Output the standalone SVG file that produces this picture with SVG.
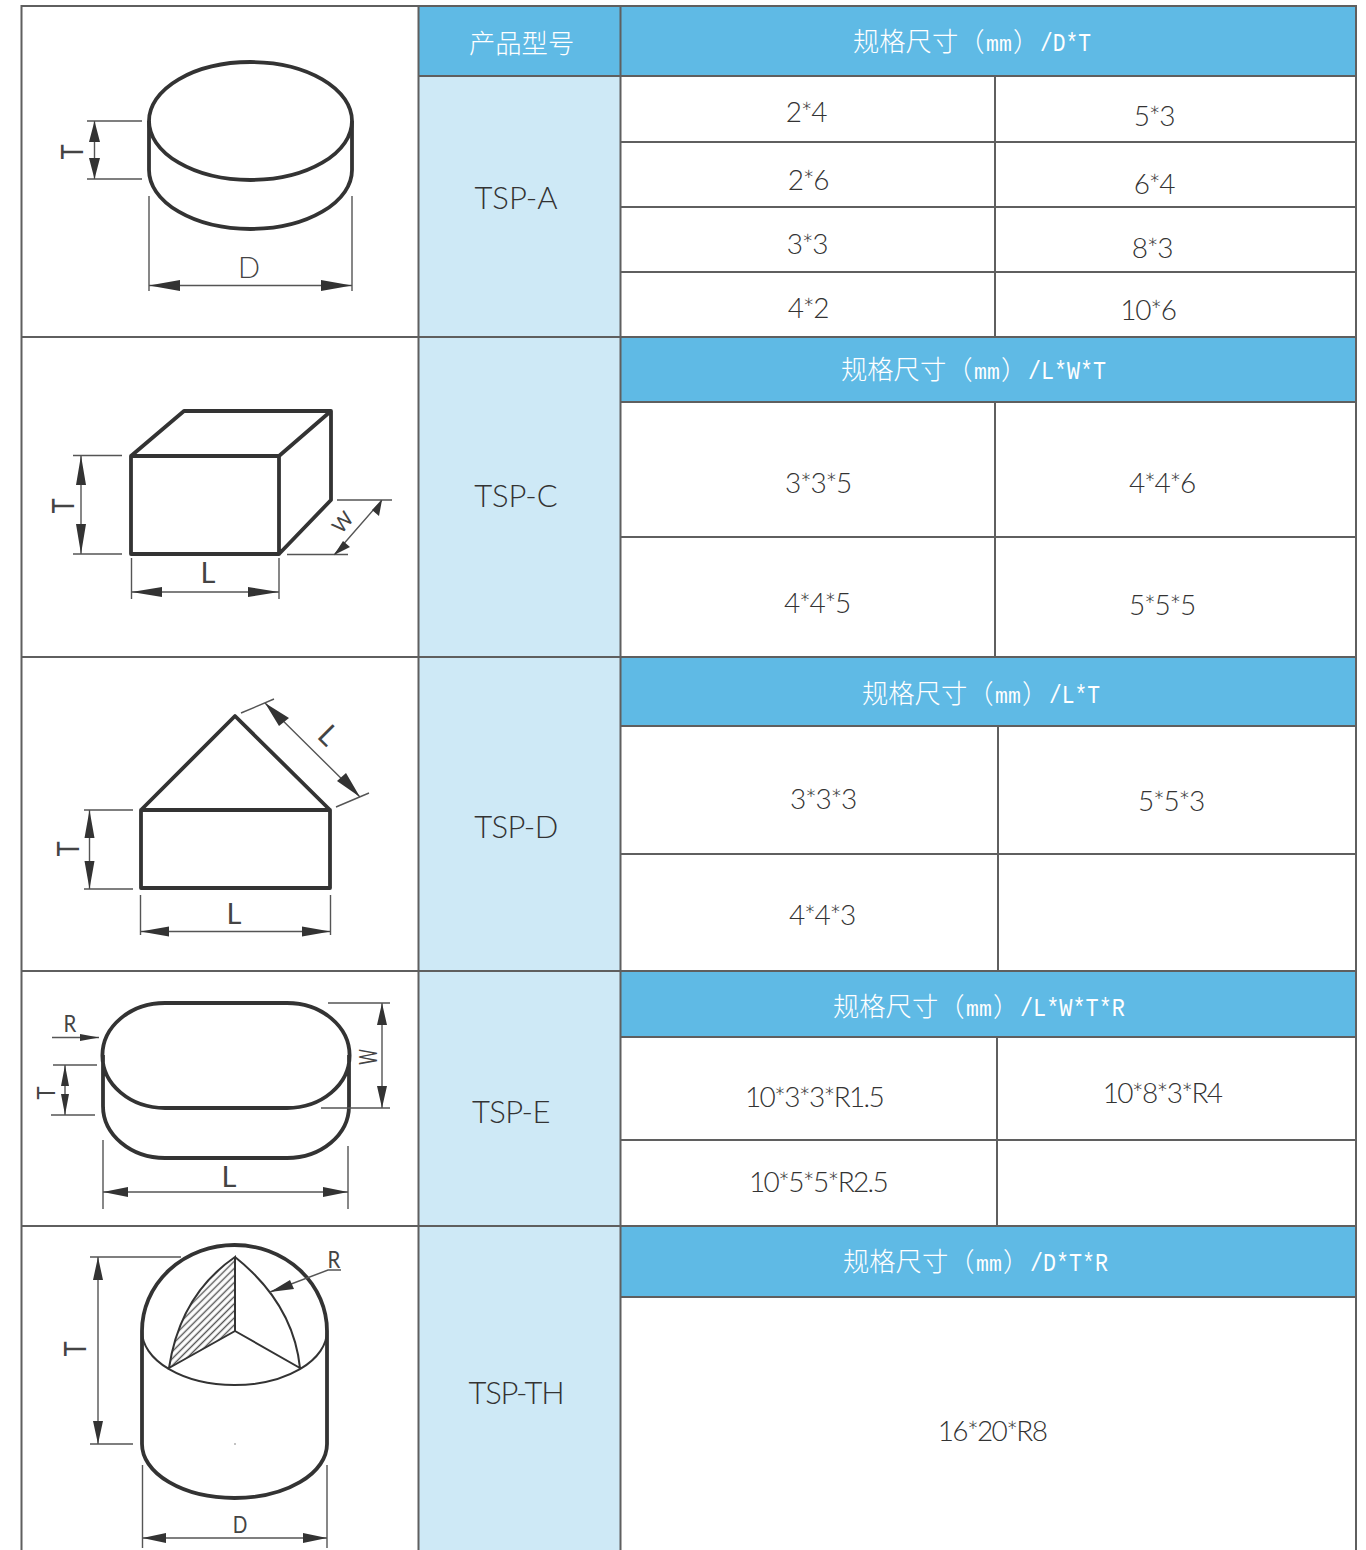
<svg xmlns="http://www.w3.org/2000/svg" width="1366" height="1550" viewBox="0 0 1366 1550">
<style>
.g{stroke:#5f5f5f;stroke-width:2;fill:none}
.s{stroke:#333;stroke-width:3.8;fill:none;stroke-linejoin:round}
.s2{stroke:#333;stroke-width:2;fill:none}
.d{stroke:#555;stroke-width:1.4;fill:none}
.a{fill:#333;stroke:none}
text{font-family:"Lato","Noto Sans CJK SC",sans-serif}
.v{font-size:28px;font-weight:300;fill:#333;text-anchor:middle;letter-spacing:-1.300px}
.m{font-size:31px;font-weight:300;fill:#333;text-anchor:middle}
.h{font-family:"Noto Sans CJK SC",sans-serif;font-size:26.300px;font-weight:300;fill:#fff}
.h tspan.l{font-family:"Liberation Mono",monospace;font-size:26px}
.h tspan.u{font-family:"Liberation Mono",monospace;font-size:21.500px}
.k{font-size:29px;fill:#444;text-anchor:middle;font-weight:400}
.t{font-size:30px;fill:#444;text-anchor:middle;font-weight:400}
.n{font-size:24px;fill:#444;text-anchor:middle;font-weight:400}
</style>
<defs>
<pattern id="hatch" width="5" height="5" patternUnits="userSpaceOnUse" patternTransform="rotate(-45)"><rect width="5" height="5" fill="#fff"/><line x1="0" y1="2.500" x2="5" y2="2.500" stroke="#555" stroke-width="1.400"/></pattern>
</defs>
<rect width="1366" height="1550" fill="#fff"/>
<g id="fills">
<rect x="419" y="7" width="937" height="69" fill="#5fbae5"/>
<rect x="419" y="76" width="201" height="1474" fill="#cee9f6"/>
<rect x="621" y="338" width="735" height="64" fill="#5fbae5"/>
<rect x="621" y="658" width="735" height="68" fill="#5fbae5"/>
<rect x="621" y="972" width="735" height="65" fill="#5fbae5"/>
<rect x="621" y="1227" width="735" height="70" fill="#5fbae5"/>
</g>
<g id="connectors">
<path class="g" d="M21.500 1550V6H1356V1550M418.500 6V1550M620.500 6V1550"/>
<path class="g" d="M21 337H1356M21 657H1356M21 971H1356M21 1226H1356M419 76H1356M621 142H1356M621 207H1356M621 272H1356M621 402H1356M621 537H1356M621 726H1356M621 854H1356M621 1037H1356M621 1140H1356M621 1297H1356"/>
<path class="g" d="M995 76V337M995 402V657M998 726V971M997 1037V1226"/>
</g>
<g id="tsp-a-shape">
<ellipse class="s" cx="250.500" cy="121" rx="101.500" ry="59"/>
<path class="s" d="M149 121V170A101.500 59 0 0 0 352 170V121"/>
<path class="d" d="M87 121H142M87 179H142M94.500 121V179M149 196V291M352 196V291M149 285.500H352"/>
<path class="a" d="M94.500 121L89 142H100ZM94.500 179L89 158H100ZM149 285.500L180 280V291ZM352 285.500L321 280V291Z"/>
<text class="k" style="font-weight:300" x="249" y="278">D</text>
<text class="t" transform="translate(83,152) rotate(-90) scale(.85,1)">T</text>
</g>
<g id="tsp-c-shape">
<path class="s" d="M131 456H279V554H131ZM131 456L184 411H331L279 456M331 411V500L279 554"/>
<path class="d" d="M73 455.500H122M73 554H122M81 455.500V554M131.500 558V599M279 558V599M131.500 592H279M337 500H392M287 554.500H348M334 555L382 500"/>
<path class="a" d="M81 455.500L76 485H86ZM81 554L76 524H86ZM131.500 592L162 587V597ZM279 592L248 587V597ZM382 500L372 510L379 516ZM334 555L343 541L350 547Z"/>
<text class="k" x="208" y="583">L</text>
<text class="t" transform="translate(74,506) rotate(-90) scale(.85,1)">T</text>
<text transform="translate(348,527) rotate(-49)" class="n" style="font-size:20px">W</text>
</g>
<g id="tsp-d-shape">
<path class="s" d="M141 810H330V888H141ZM141 810L235 716L330 810"/>
<path class="d" d="M84 810H133M84 889H133M89.500 810V889M140.500 895V935M330.500 895V935M140.500 931.500H330.500M241 713L274 699M336 807L369 793M265 703L360 797"/>
<path class="a" d="M89.500 810L84.500 838H94.500ZM89.500 889L84.500 861H94.500ZM140.500 931.500L169 926.500V936.500ZM330.500 931.500L302 926.500V936.500ZM265 703L289 718L279 726ZM360 797L337 781L346 773Z"/>
<text class="k" x="234" y="924">L</text>
<text class="t" transform="translate(79,849) rotate(-90) scale(.85,1)">T</text>
<text class="k" style="text-anchor:start" transform="translate(316,737) rotate(45)">L</text>
</g>
<g id="tsp-e-shape">
<path class="s" d="M165 1003H287A62 52 0 0 1 287 1108H165A62 52 0 0 1 165 1003ZM103 1055V1106A62 52 0 0 0 165 1158H287A62 52 0 0 0 349 1106V1055"/>
<path class="d" d="M53 1065H97M51 1115H95M65 1065V1115M328 1003H390M321 1108H390M382 1003V1108M103 1140V1209M348 1146V1209M103 1192H348M52 1037.500H99"/>
<path class="a" d="M65 1065L61 1086H69ZM65 1115L61 1094H69ZM382 1003L377 1025H387ZM382 1108L377 1086H387ZM103 1192L128 1187V1197ZM348 1192L323 1187V1197ZM99 1037.500L80 1034V1041Z"/>
<text class="n" transform="translate(70,1032) scale(.85,1)">R</text>
<text class="t" style="font-size:26px" transform="translate(55,1093) rotate(-90) scale(.85,1)">T</text>
<text class="n" style="font-size:25px" transform="translate(377,1057) rotate(-90) scale(.6,1)">W</text>
<text class="k" x="229" y="1187">L</text>
</g>
<g id="tsp-th-shape">
<path d="M235 1257V1331L169 1368Q180 1295 235 1257Z" fill="url(#hatch)" stroke="#333" stroke-width="2"/>
<path class="s" d="M142 1331A92.500 86 0 0 1 327 1331V1444A92.500 54 0 0 1 142 1444Z"/>
<path class="s2" d="M142 1331A92.500 54 0 0 0 327 1331M235 1331L300 1368C295 1320 270 1285 235 1257"/>
<path class="d" d="M90 1257H181M90 1444H133M98 1257V1444M142.500 1465V1548M327 1465V1548M142.500 1538H327M270 1292L328 1270H341"/>
<path class="a" d="M98 1257L93 1280H103ZM98 1444L93 1421H103ZM142.500 1538L166 1533V1543ZM327 1538L303 1533V1543ZM270 1292L290 1280L294 1289Z"/>
<circle cx="235" cy="1444" r="0.800" fill="#777"/>
<text class="n" transform="translate(334,1268) scale(.85,1)">R</text>
<text class="t" transform="translate(86,1349) rotate(-90) scale(.85,1)">T</text>
<text class="n" transform="translate(240,1533) scale(.8,1)">D</text>
</g>
<g id="row-a">
<text class="h" x="469" y="53">产品型号</text>
<text class="h" x="853" y="51">规格尺寸（<tspan class="u" x="986">mm</tspan><tspan x="1013">）</tspan><tspan class="l" x="1040" textLength="51" lengthAdjust="spacingAndGlyphs">/D*T</tspan></text>
<text class="m" x="516" y="209">TSP-A</text>
<text class="v" x="806" y="122">2*4</text><text class="v" x="1154" y="126">5*3</text>
<text class="v" x="808" y="190">2*6</text><text class="v" x="1154" y="194">6*4</text>
<text class="v" x="807" y="254">3*3</text><text class="v" x="1152" y="258">8*3</text>
<text class="v" x="808" y="318">4*2</text><text class="v" x="1148" y="320">10*6</text>
</g>
<g id="row-c">
<text class="h" x="841" y="379">规格尺寸（<tspan class="u" x="974">mm</tspan><tspan x="1001">）</tspan><tspan class="l" x="1028" textLength="78" lengthAdjust="spacingAndGlyphs">/L*W*T</tspan></text>
<text class="m" x="516" y="507">TSP-C</text>
<text class="v" x="818" y="493">3*3*5</text><text class="v" x="1162" y="493">4*4*6</text>
<text class="v" x="817" y="613">4*4*5</text><text class="v" x="1162" y="615">5*5*5</text>
</g>
<g id="row-d">
<text class="h" x="862" y="703">规格尺寸（<tspan class="u" x="995">mm</tspan><tspan x="1022">）</tspan><tspan class="l" x="1049" textLength="51" lengthAdjust="spacingAndGlyphs">/L*T</tspan></text>
<text class="m" x="516" y="838" style="letter-spacing:-.5px">TSP-D</text>
<text class="v" x="823" y="809">3*3*3</text><text class="v" x="1171" y="811">5*5*3</text>
<text class="v" x="822" y="925">4*4*3</text>
</g>
<g id="row-e">
<text class="h" x="833" y="1016">规格尺寸（<tspan class="u" x="966">mm</tspan><tspan x="993">）</tspan><tspan class="l" x="1020" textLength="105" lengthAdjust="spacingAndGlyphs">/L*W*T*R</tspan></text>
<text class="m" x="511" y="1123" style="letter-spacing:-.5px">TSP-E</text>
<text class="v" x="814" y="1107" style="letter-spacing:-1.700px">10*3*3*R1.5</text><text class="v" x="1162" y="1103" style="letter-spacing:-1.700px">10*8*3*R4</text>
<text class="v" x="818" y="1192" style="letter-spacing:-1.700px">10*5*5*R2.5</text>
</g>
<g id="row-th">
<text class="h" x="843" y="1271">规格尺寸（<tspan class="u" x="976">mm</tspan><tspan x="1003">）</tspan><tspan class="l" x="1030" textLength="78" lengthAdjust="spacingAndGlyphs">/D*T*R</tspan></text>
<text class="m" x="516" y="1404" style="letter-spacing:-1.200px">TSP-TH</text>
<text class="v" x="992" y="1441" style="letter-spacing:-1.700px">16*20*R8</text>
</g>
</svg>
